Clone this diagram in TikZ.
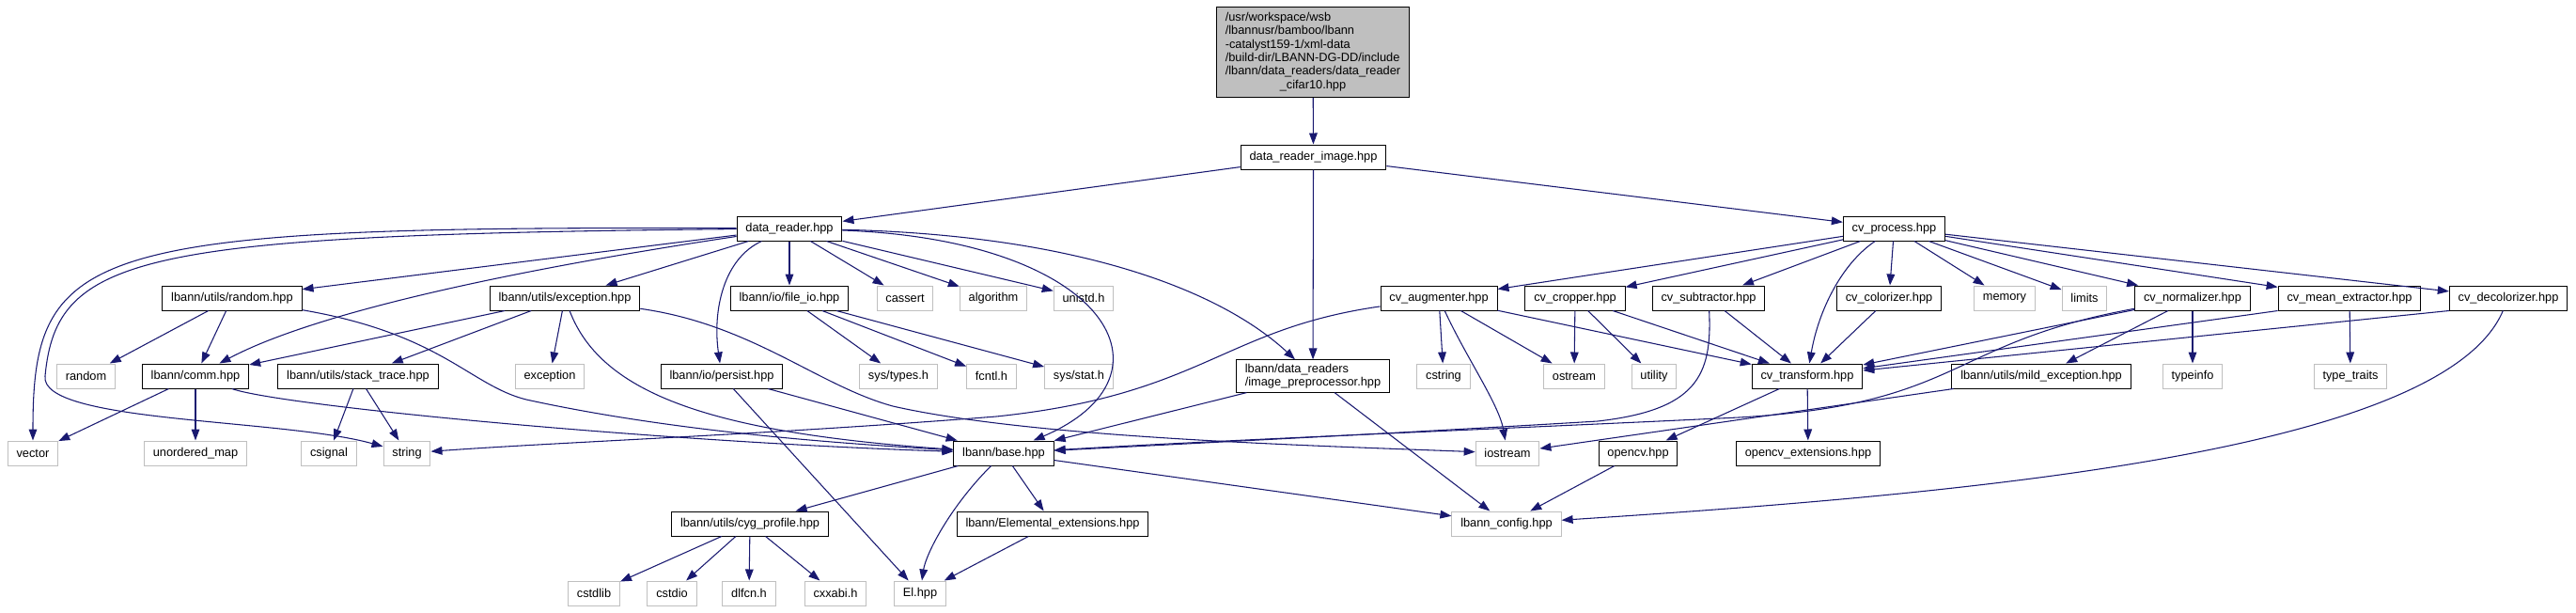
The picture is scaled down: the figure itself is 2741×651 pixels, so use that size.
\documentclass[tikz,border=0pt]{standalone}
\usepackage{fontspec}
\setmainfont{Liberation Sans}
\usepackage{tikz}
\usetikzlibrary{arrows.meta}
\definecolor{edgeblue}{HTML}{191970}
\definecolor{boxgray}{HTML}{BFBFBF}

\begin{document}
\begin{tikzpicture}[x=0.75pt,y=-0.75pt,>={Triangle[length=9pt,width=6.5pt]},
  hdr/.style={draw=black,fill=white,line width=0.75pt,font=\fontsize{9.6}{10.7}\selectfont,minimum height=19.5pt,inner xsep=7pt,inner ysep=3pt},
  sysh/.style={hdr,draw=boxgray},
  dep/.style={->,draw=edgeblue,line width=0.8pt}]
\useasboundingbox (0,0) rectangle (2741,651);
% files
\node[hdr,fill=boxgray,inner ysep=4pt] (cifar) at (1397,55.5) {\begin{tabular}{@{}l@{}}/usr/workspace/wsb\\/lbannusr/bamboo/lbann\\-catalyst159-1/xml-data\\/build-dir/LBANN-DG-DD/include\\/lbann/data\_readers/data\_reader\\\multicolumn{1}{@{}c@{}}{\_cifar10.hpp}\end{tabular}};
\node[hdr] (dri) at (1397.5,167) {data\_reader\_image.hpp};
\node[hdr] (dr) at (840,243) {data\_reader.hpp};
\node[hdr] (cvp) at (2015.5,243) {cv\_process.hpp};
\node[hdr] (urnd) at (247,317) {lbann/utils/random.hpp};
\node[hdr] (uexc) at (601,317) {lbann/utils/exception.hpp};
\node[hdr] (fio) at (840,317) {lbann/io/file\_io.hpp};
\node[sysh] (cassert) at (963,317) {cassert};
\node[sysh] (algo) at (1057,317) {algorithm};
\node[sysh] (unistd) at (1153,317) {unistd.h};
\node[hdr] (cvaug) at (1531,317) {cv\_augmenter.hpp};
\node[hdr] (cvcrop) at (1676,317) {cv\_cropper.hpp};
\node[hdr] (cvsub) at (1818,317) {cv\_subtractor.hpp};
\node[hdr] (cvcol) at (2010,317) {cv\_colorizer.hpp};
\node[sysh] (memory) at (2133,317) {memory};
\node[sysh] (limits) at (2218,317) {limits};
\node[hdr] (cvnorm) at (2333,317) {cv\_normalizer.hpp};
\node[hdr] (cvmean) at (2500,317) {cv\_mean\_extractor.hpp};
\node[hdr] (cvdec) at (2669,317) {cv\_decolorizer.hpp};
\node[sysh] (srnd) at (91.5,400) {random};
\node[hdr] (comm) at (208,400) {lbann/comm.hpp};
\node[hdr] (stk) at (381,400) {lbann/utils/stack\_trace.hpp};
\node[sysh] (sexc) at (585,400) {exception};
\node[hdr] (persist) at (768,400) {lbann/io/persist.hpp};
\node[sysh] (systypes) at (956,400) {sys/types.h};
\node[sysh] (fcntl) at (1055,400) {fcntl.h};
\node[sysh] (sysstat) at (1148,400) {sys/stat.h};
\node[hdr,align=left] (imgpp) at (1397,400) {lbann/data\_readers\\/image\_preprocessor.hpp};
\node[sysh] (cstring) at (1536,400) {cstring};
\node[sysh] (ostream) at (1675,400) {ostream};
\node[sysh] (utility) at (1760,400) {utility};
\node[hdr] (cvtr) at (1923,400) {cv\_transform.hpp};
\node[hdr] (mild) at (2172,400) {lbann/utils/mild\_exception.hpp};
\node[sysh] (typeinfo) at (2333,400) {typeinfo};
\node[sysh] (typetr) at (2501,400) {type\_traits};
\node[sysh] (vector) at (35,482) {vector};
\node[sysh] (umap) at (208,482) {unordered\_map};
\node[sysh] (csignal) at (350,482) {csignal};
\node[sysh] (str) at (433,482) {string};
\node[hdr] (base) at (1068,482) {lbann/base.hpp};
\node[sysh] (ios) at (1604,482) {iostream};
\node[hdr] (ocv) at (1743,482) {opencv.hpp};
\node[hdr] (ocvext) at (1924,482) {opencv\_extensions.hpp};
\node[hdr] (cyg) at (798,557) {lbann/utils/cyg\_profile.hpp};
\node[hdr] (elext) at (1120,557) {lbann/Elemental\_extensions.hpp};
\node[sysh] (config) at (1603,557) {lbann\_config.hpp};
\node[sysh] (cstdlib) at (632,631) {cstdlib};
\node[sysh] (cstdio) at (715,631) {cstdio};
\node[sysh] (dlfcn) at (797,631) {dlfcn.h};
\node[sysh] (cxxabi) at (889,631) {cxxabi.h};
\node[sysh] (el) at (979,631) {El.hpp};
% includes
\draw[dep] (cifar)--(dri);
\draw[dep] (dri)--(dr);
\draw[dep] (dri)--(imgpp);
\draw[dep] (dri)--(cvp);
\draw[dep] (dr) .. controls (90,240) and (35,262) .. (vector);
\draw[dep] (dr) .. controls (150,250) and (60,270) .. (48,400) .. controls (42,450) and (300,445) .. (str);
\draw[dep] (dr)--(urnd);
\draw[dep] (dr) .. controls (560,285) and (340,330) .. (comm);
\draw[dep] (dr)--(uexc);
\draw[dep] (dr) .. controls (770,275) and (758,330) .. (persist);
\draw[dep] (dr)--(fio);
\draw[dep] (dr)--(cassert);
\draw[dep] (dr)--(algo);
\draw[dep] (dr)--(unistd);
\draw[dep] (dr) .. controls (1180,255) and (1260,400) .. (base);
\draw[dep] (dr) .. controls (1150,250) and (1300,310) .. (imgpp);
\draw[dep] (urnd)--(srnd);
\draw[dep] (urnd)--(comm);
\draw[dep] (urnd) .. controls (470,355) and (500,410) .. (560,425) .. controls (720,460) and (900,472) .. (base);
\draw[dep] (uexc)--(comm);
\draw[dep] (uexc)--(stk);
\draw[dep] (uexc)--(sexc);
\draw[dep] (uexc) .. controls (640,420) and (760,460) .. (base);
\draw[dep] (uexc) .. controls (800,345) and (870,410) .. (950,432) .. controls (1100,466) and (1400,474) .. (ios);
\draw[dep] (fio)--(systypes);
\draw[dep] (fio)--(fcntl);
\draw[dep] (fio)--(sysstat);
\draw[dep] (comm)--(vector);
\draw[dep] (comm)--(umap);
\draw[dep] (comm) .. controls (300,432) and (700,470) .. (base);
\draw[dep] (stk)--(csignal);
\draw[dep] (stk)--(str);
\draw[dep] (persist)--(base);
\draw[dep] (persist)--(el);
\draw[dep] (imgpp)--(base);
\draw[dep] (imgpp)--(config);
\draw[dep] (base)--(cyg);
\draw[dep] (base)--(elext);
\draw[dep] (base) .. controls (1010,540) and (985,590) .. (el);
\draw[dep] (base)--(config);
\draw[dep] (cyg)--(cstdlib);
\draw[dep] (cyg)--(cstdio);
\draw[dep] (cyg)--(dlfcn);
\draw[dep] (cyg)--(cxxabi);
\draw[dep] (elext)--(el);
\draw[dep] (cvp)--(cvaug);
\draw[dep] (cvp)--(cvcrop);
\draw[dep] (cvp)--(cvsub);
\draw[dep] (cvp) .. controls (1960,280) and (1935,330) .. (cvtr);
\draw[dep] (cvp)--(cvcol);
\draw[dep] (cvp)--(memory);
\draw[dep] (cvp)--(limits);
\draw[dep] (cvp)--(cvnorm);
\draw[dep] (cvp)--(cvmean);
\draw[dep] (cvp)--(cvdec);
\draw[dep] (cvaug) .. controls (1300,350) and (1280,420) .. (1060,443) .. controls (820,462) and (600,470) .. (str);
\draw[dep] (cvaug)--(cstring);
\draw[dep] (cvaug) .. controls (1560,380) and (1595,430) .. (ios);
\draw[dep] (cvaug)--(ostream);
\draw[dep] (cvaug)--(cvtr);
\draw[dep] (cvcrop)--(ostream);
\draw[dep] (cvcrop)--(utility);
\draw[dep] (cvcrop)--(cvtr);
\draw[dep] (cvsub)--(cvtr);
\draw[dep] (cvsub) .. controls (1822,400) and (1805,436) .. (1700,448) .. controls (1500,460) and (1300,470) .. (base);
\draw[dep] (cvcol)--(cvtr);
\draw[dep] (cvnorm)--(cvtr);
\draw[dep] (cvnorm) .. controls (2070,365) and (2090,430) .. (1850,444) .. controls (1600,456) and (1300,468) .. (base);
\draw[dep] (cvnorm)--(mild);
\draw[dep] (cvnorm)--(typeinfo);
\draw[dep] (cvmean.south west)--(cvtr);
\draw[dep] (cvmean)--(typetr);
\draw[dep] (cvdec.south west)--(cvtr);
\draw[dep] (cvdec) .. controls (2600,480) and (2100,525) .. (config);
\draw[dep] (mild)--(ios);
\draw[dep] (cvtr)--(ocv);
\draw[dep] (cvtr)--(ocvext);
\draw[dep] (ocv)--(config);
\end{tikzpicture}
\end{document}
